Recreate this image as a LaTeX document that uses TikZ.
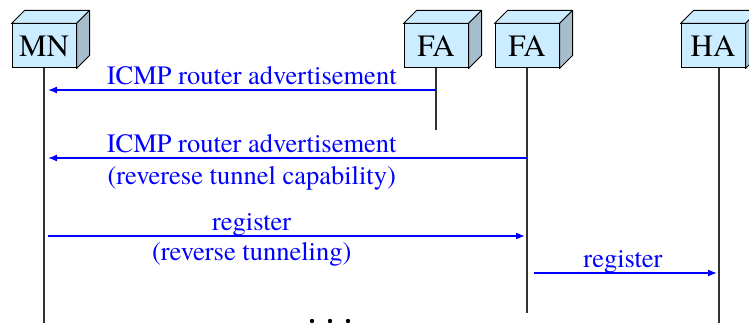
\documentclass[tikz,border=0pt]{standalone}
\usepackage{fontspec}
\setmainfont{texgyretermes-regular.otf}
\usetikzlibrary{arrows.meta}

\definecolor{boxfront}{RGB}{204,236,255}
\definecolor{boxside}{RGB}{166,190,204}
\definecolor{lifegray}{RGB}{51,51,51}

\tikzset{
entity/.style={draw,fill=boxfront,minimum width=64pt,minimum height=44pt,inner sep=0pt,line width=1pt,font=\fontsize{31}{36}\selectfont},
lifeline/.style={draw=lifegray,line width=1.3pt},
msg/.style={draw=blue,line width=1.3pt,-{Latex[length=9pt,width=7pt]}},
lbl/.style={text=blue,anchor=base,inner sep=0pt,font=\fontsize{26.5}{30}\selectfont}
}

\begin{document}
\begin{tikzpicture}[x=1pt,y=-1pt]
\useasboundingbox (0,0) rectangle (749,323);

\coordinate(mnend) at (44,323);
\coordinate(fa1end) at (436,130);
\coordinate(fa2end) at (527,313);
\coordinate(haend) at (719,323);

\coordinate(m1) at (0,90);
\coordinate(m2) at (0,158);
\coordinate(m3) at (0,236);
\coordinate(m4) at (0,273);

\node(mn)[entity] at (44,46){MN};
\node(fa1)[entity] at (436,46){FA};
\node(fa2)[entity] at (527,46){FA};
\node(ha)[entity] at (713,46){HA};

% cube tops and sides
\foreach \n in {mn,fa1,fa2,ha}{
\filldraw[fill=boxfront,line width=1pt,line join=round] (\n.north west) -- ++(13,-13) -- ([shift={(13,-13)}]\n.north east) -- (\n.north east) -- cycle;
\filldraw[fill=boxside,line width=1pt,line join=round] (\n.north east) -- ++(13,-13) -- ([shift={(13,-13)}]\n.south east) -- (\n.south east) -- cycle;
}

\draw[lifeline] (mn.south) -- (mnend);
\draw[lifeline] (fa1.south) -- (fa1end);
\draw[lifeline] (fa2.south) -- (fa2end);
\draw[lifeline] ([xshift=6pt]ha.south) -- (haend);

\draw[msg,shorten >=4pt] (fa1 |- m1) -- (mn |- m1) node[lbl,pos=0.47,yshift=5pt]{ICMP router advertisement};
\draw[msg,shorten >=4pt] (fa2 |- m2) -- (mn |- m2) node[lbl,pos=0.57,yshift=5pt]{ICMP router advertisement}
 node[lbl,pos=0.57,yshift=-27pt]{(reverese tunnel capability)};
\draw[msg,shorten <=4pt,shorten >=2pt] (mn |- m3) -- (fa2 |- m3) node[lbl,pos=0.43,yshift=6pt]{register}
 node[lbl,pos=0.43,yshift=-24pt]{(reverse tunneling)};
\draw[msg,shorten <=7pt,shorten >=2pt] (fa2 |- m4) -- (haend |- m4) node[lbl,midway,yshift=6pt]{register};

\foreach \x in {312,330,348}
\fill (\x,321) circle (2.2);

\end{tikzpicture}
\end{document}
